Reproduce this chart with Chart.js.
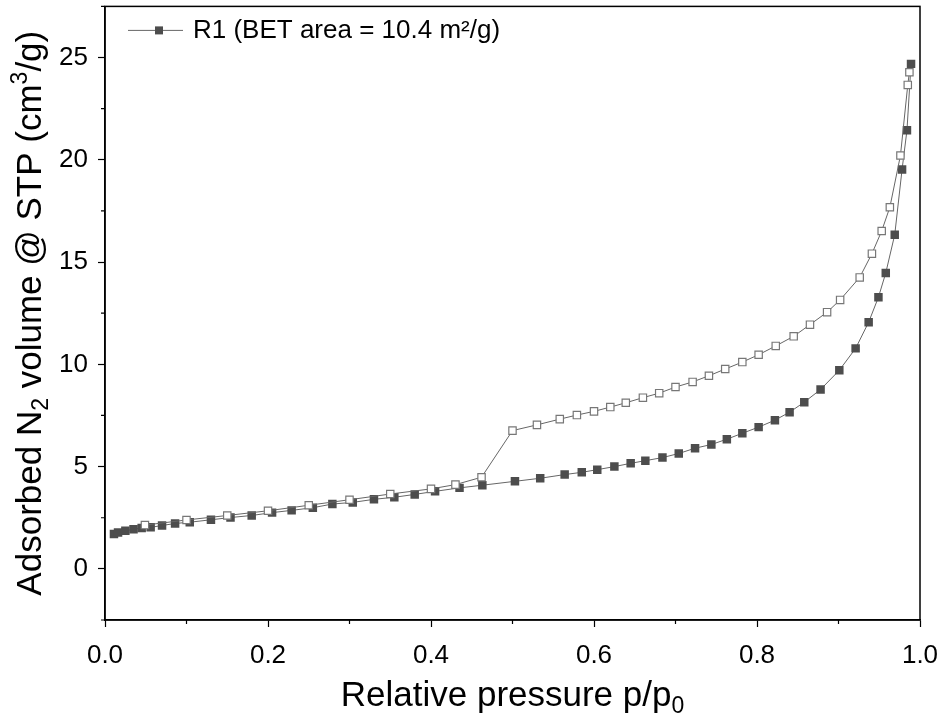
<!DOCTYPE html>
<html>
<head>
<meta charset="utf-8">
<script src="https://cdn.jsdelivr.net/npm/chart.js@4/dist/chart.umd.min.js"></script>
<style>
  html, body { margin: 0; padding: 0; background: #fff; }
</style>
</head>
<body>
<canvas id="bet" width="942" height="718"></canvas>
<script>
// Adsorption branch (filled squares)
const adsP = [0.011, 0.016, 0.025, 0.035, 0.045, 0.056, 0.070, 0.086, 0.104, 0.130,
              0.154, 0.180, 0.205, 0.229, 0.255, 0.279, 0.304, 0.330, 0.355, 0.380,
              0.405, 0.435, 0.463, 0.503, 0.534, 0.564, 0.585, 0.604, 0.625, 0.645,
              0.663, 0.684, 0.704, 0.724, 0.744, 0.763, 0.782, 0.802, 0.822, 0.840,
              0.858, 0.878, 0.901, 0.921, 0.937, 0.949, 0.958, 0.969, 0.978, 0.984, 0.989];
const adsV = [1.70, 1.78, 1.86, 1.94, 2.00, 2.03, 2.12, 2.22, 2.28, 2.40,
              2.51, 2.61, 2.75, 2.86, 2.99, 3.17, 3.25, 3.40, 3.50, 3.64,
              3.79, 3.96, 4.09, 4.28, 4.43, 4.61, 4.72, 4.85, 5.00, 5.16,
              5.29, 5.44, 5.64, 5.90, 6.08, 6.34, 6.63, 6.93, 7.27, 7.66,
              8.15, 8.77, 9.71, 10.78, 12.06, 13.28, 14.47, 16.34, 19.53, 21.44, 24.69];

// Desorption branch (open squares)
const desP = [0.987, 0.985, 0.976, 0.963, 0.953, 0.941, 0.926, 0.902, 0.886, 0.865,
              0.845, 0.823, 0.802, 0.782, 0.761, 0.741, 0.721, 0.700, 0.680, 0.660,
              0.639, 0.620, 0.600, 0.579, 0.558, 0.530, 0.500, 0.462, 0.430, 0.400,
              0.350, 0.300, 0.250, 0.200, 0.150, 0.100, 0.049];
const desV = [24.28, 23.66, 20.21, 17.68, 16.52, 15.41, 14.25, 13.15, 12.55, 11.94,
              11.37, 10.90, 10.47, 10.11, 9.77, 9.44, 9.14, 8.89, 8.59, 8.37,
              8.12, 7.91, 7.70, 7.52, 7.32, 7.04, 6.76, 4.48, 4.12, 3.91,
              3.66, 3.38, 3.11, 2.84, 2.61, 2.39, 2.14];

const xTicks = [0, 0.2, 0.4, 0.6, 0.8, 1.0];
const xMinor = [0.1, 0.3, 0.5, 0.7, 0.9];
const yTicks = [0, 5, 10, 15, 20, 25];
const yMinor = [-2.5, 2.5, 7.5, 12.5, 17.5, 22.5, 27.5];

const legendLabel = 'R1 (BET area = 10.4 m\u00B2/g)';
const FONT = "'Liberation Sans', Arial, sans-serif";

const toPoints = (xs, ys) => xs.map((x, i) => ({ x: x, y: ys[i] }));

// Draw text with sub/superscript pieces, centred on (x, y)
function drawRich(ctx, segs, x, y, size) {
    const small = Math.round(size * 0.66);
    let total = 0;
    segs.forEach(s => {
        ctx.font = (s.s ? small : size) + 'px ' + FONT;
        total += ctx.measureText(s.t).width;
    });
    let cx = x - total / 2;
    ctx.textAlign = 'left';
    ctx.textBaseline = 'middle';
    segs.forEach(s => {
        ctx.font = (s.s ? small : size) + 'px ' + FONT;
        const dy = s.s === -1 ? size * 0.3 : (s.s === 1 ? -size * 0.3 : 0);
        ctx.fillText(s.t, cx, y + dy);
        cx += ctx.measureText(s.t).width;
    });
}

const decor = {
    id: 'decor',
    afterDraw(chart) {
        const { ctx, chartArea: a, scales } = chart;
        ctx.save();

        // frame
        ctx.strokeStyle = '#000';
        ctx.lineWidth = 1.5;
        ctx.strokeRect(a.left, a.top, a.right - a.left, a.bottom - a.top);

        // minor ticks
        ctx.lineWidth = 1.2;
        ctx.beginPath();
        xMinor.forEach(v => {
            const px = scales.x.getPixelForValue(v);
            ctx.moveTo(px, a.bottom);
            ctx.lineTo(px, a.bottom + 4);
        });
        yMinor.forEach(v => {
            const py = scales.y.getPixelForValue(v);
            ctx.moveTo(a.left, py);
            ctx.lineTo(a.left - 4, py);
        });
        ctx.stroke();

        // axis titles
        ctx.fillStyle = '#000';
        drawRich(ctx, [{ t: 'Relative pressure p/p' }, { t: '0', s: -1 }],
                 (a.left + a.right) / 2, 696, 35);
        ctx.save();
        ctx.translate(31, (a.top + a.bottom) / 2);
        ctx.rotate(-Math.PI / 2);
        drawRich(ctx, [{ t: 'Adsorbed N' }, { t: '2', s: -1 },
                       { t: ' volume @ STP (cm' }, { t: '3', s: 1 }, { t: '/g)' }], 0, 0, 35);
        ctx.restore();

        // legend
        const ds = chart.data.datasets[0];
        const ly = a.top + 24;
        const lx = a.left + 23;
        ctx.strokeStyle = ds.borderColor;
        ctx.lineWidth = 1;
        ctx.beginPath();
        ctx.moveTo(lx, ly);
        ctx.lineTo(lx + 55, ly);
        ctx.stroke();
        ctx.fillStyle = ds.pointBackgroundColor;
        ctx.fillRect(lx + 31 - 4, ly - 4, 8, 8);
        ctx.fillStyle = '#000';
        ctx.font = '26px ' + FONT;
        ctx.textAlign = 'left';
        ctx.textBaseline = 'middle';
        ctx.fillText(legendLabel, lx + 65, ly);

        ctx.restore();
    }
};

new Chart(document.getElementById('bet'), {
    type: 'line',
    data: {
        datasets: [
            {
                label: legendLabel,
                data: toPoints(adsP, adsV),
                borderColor: '#666',
                borderWidth: 1,
                pointStyle: 'rect',
                pointRadius: 6,
                pointBackgroundColor: '#4d4d4d',
                pointBorderColor: '#4d4d4d',
                pointBorderWidth: 0,
                tension: 0,
                order: 1,
            },
            {
                label: 'desorption',
                data: toPoints(desP, desV),
                borderColor: '#666',
                borderWidth: 1,
                pointStyle: 'rect',
                pointRadius: 5.2,
                pointBackgroundColor: '#fff',
                pointBorderColor: '#777',
                pointBorderWidth: 1.2,
                tension: 0,
                order: 0,
            }
        ]
    },
    options: {
        responsive: false,
        animation: false,
        layout: { padding: { left: 0, right: 22, top: 6, bottom: 0 } },
        plugins: {
            legend: { display: false },
            tooltip: { enabled: false },
        },
        scales: {
            x: {
                type: 'linear',
                min: 0,
                max: 1,
                afterBuildTicks(scale) { scale.ticks = xTicks.map(v => ({ value: v })); },
                afterFit(scale) {
                    scale.height = 98;
                    scale.paddingLeft = 0;
                    scale.paddingRight = 0;
                },
                border: { display: true, color: '#000', width: 1.5 },
                grid: { drawOnChartArea: false, drawTicks: true, tickLength: 7, tickColor: '#000', tickWidth: 1.2 },
                ticks: {
                    color: '#000',
                    padding: 13,
                    maxRotation: 0,
                    font: { size: 26, family: FONT },
                    callback: v => Number(v).toFixed(1),
                },
            },
            y: {
                type: 'linear',
                min: -2.5,
                max: 27.5,
                afterBuildTicks(scale) { scale.ticks = yTicks.map(v => ({ value: v })); },
                afterFit(scale) {
                    scale.width = 105;
                    scale.paddingTop = 0;
                    scale.paddingBottom = 0;
                },
                border: { display: true, color: '#000', width: 1.5 },
                grid: { drawOnChartArea: false, drawTicks: true, tickLength: 7, tickColor: '#000', tickWidth: 1.2 },
                ticks: {
                    color: '#000',
                    padding: 10,
                    font: { size: 26, family: FONT },
                    callback: v => String(v),
                },
            },
        },
    },
    plugins: [decor],
});
</script>
</body>
</html>
